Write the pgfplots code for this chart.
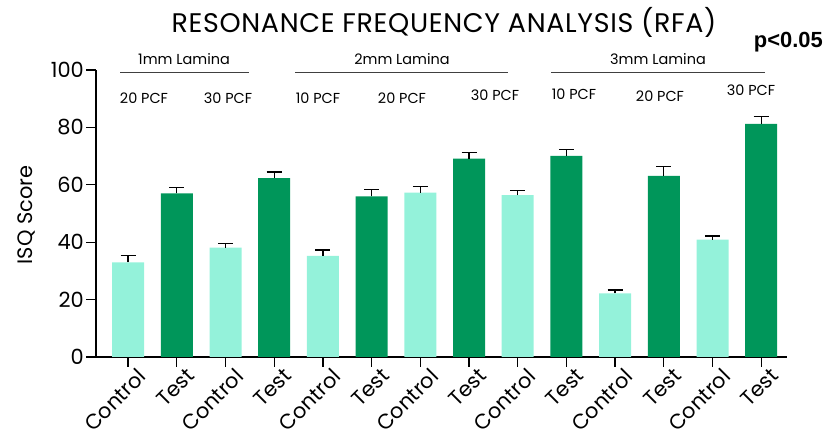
\documentclass[border=0pt]{standalone}
\usepackage{fontspec}
\setmainfont{Poppins}
\newfontfamily\arialb{Liberation Sans}
\usepackage{pgfplots}
\pgfplotsset{compat=1.18}
\definecolor{ctrl}{RGB}{148,242,218}
\definecolor{test}{RGB}{0,150,90}

\pgfplotstableread{
x y e
0 33.0 2.4
2 38.1 1.5
4 35.2 2.1
6 57.3 2.0
8 56.4 1.7
10 22.2 1.1
12 40.9 1.3
}\ctrltab
\pgfplotstableread{
x y e
1 57.0 2.0
3 62.3 2.2
5 56.0 2.3
7 69.1 2.1
9 70.1 2.3
11 63.1 3.3
13 81.2 2.5
}\testtab

\begin{document}
\begin{tikzpicture}[x=1bp,y=1bp]
\path[use as bounding box] (0,0) rectangle (827,444);
\begin{axis}[
  at={(96bp,87bp)}, anchor=south west,
  scale only axis, width=691bp, height=287bp,
  xmin=-0.66, xmax=13.53, ymin=0, ymax=100,
  axis lines=left,
  axis line style={line width=1.3bp, -},
  ybar,
  ytick={0,20,...,100},
  xtick={0,...,13},
  xticklabels={Control,Test,Control,Test,Control,Test,Control,Test,Control,Test,Control,Test,Control,Test},
  /pgf/number format/assume math mode=true,
  x tick label style={rotate=45, anchor=north east, font=\fontsize{21}{21}\selectfont, inner sep=0bp, xshift=6bp, yshift=-6bp},
  y tick label style={font=\fontsize{21}{21}\selectfont, inner sep=2bp},
  tick style={line width=1.3bp, black},
  major tick length=10bp,
  tick align=outside,
  clip=false,
]
\addplot[fill=ctrl, draw=none, bar width=32bp, bar shift=0pt,
  error bars/.cd, y dir=plus, y explicit, error mark=|,
  error bar style={line width=1.3bp, black},
  error mark options={black, line width=1.3bp, mark size=7.5bp}]
  table[x=x, y=y, y error=e] {\ctrltab};
\addplot[fill=test, draw=none, bar width=32bp, bar shift=0pt,
  error bars/.cd, y dir=plus, y explicit, error mark=|,
  error bar style={line width=1.3bp, black},
  error mark options={black, line width=1.3bp, mark size=7.5bp}]
  table[x=x, y=y, y error=e] {\testtab};
\end{axis}
% title and annotations
\node[anchor=base, font=\fontsize{27}{27}\selectfont\addfontfeatures{LetterSpace=2.5}] at (444,411) {RESONANCE FREQUENCY ANALYSIS (RFA)};
\node[anchor=base east, font=\fontsize{22}{22}\selectfont\arialb\bfseries, inner sep=0pt] at (823,396) {p<0.05};
\node[rotate=90, font=\fontsize{21}{21}\selectfont] at (26,229) {ISQ Score};
\begin{scope}[font=\fontsize{14.5}{14.5}\selectfont]
\node[anchor=base] at (184,379) {1mm Lamina};
\node[anchor=base] at (402,379) {2mm Lamina};
\node[anchor=base] at (658,379) {3mm Lamina};
\draw[line width=1bp, black!75] (120,371) -- (249,371);
\draw[line width=1bp, black!75] (295,371) -- (508,371);
\draw[line width=1bp, black!75] (551,371) -- (765,371);
\node[anchor=base] at (144,340) {20 PCF};
\node[anchor=base] at (228,340) {30 PCF};
\node[anchor=base] at (318,340) {10 PCF};
\node[anchor=base] at (402,340) {20 PCF};
\node[anchor=base] at (495,343) {30 PCF};
\node[anchor=base] at (574,344) {10 PCF};
\node[anchor=base] at (660,342) {20 PCF};
\node[anchor=base] at (751,348) {30 PCF};
\end{scope}
\end{tikzpicture}
\end{document}
